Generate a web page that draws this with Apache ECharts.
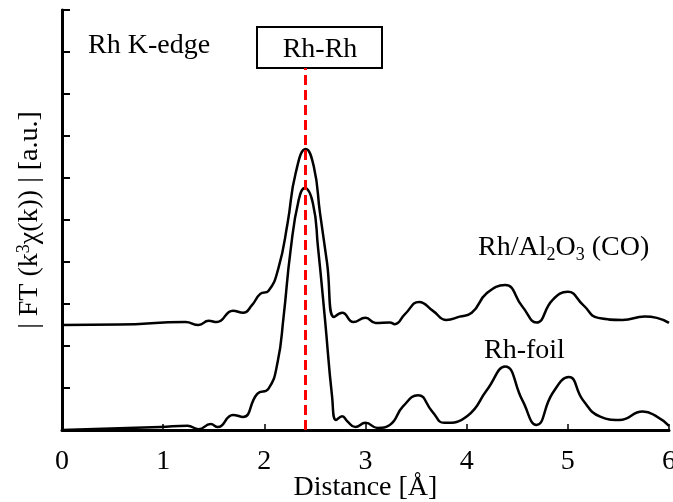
<!DOCTYPE html>
<html>
<head>
<meta charset="utf-8">
<script src="https://cdn.jsdelivr.net/npm/echarts@6/dist/echarts.min.js"></script>
<style>
  html, body { margin: 0; padding: 0; background: #fff; }
  #main { width: 673px; height: 502px; }
</style>
</head>
<body>
<div id="main"></div>
<script>
// Rh/Al2O3(CO) 曲线 (距离 Å, |FT| a.u.)
var coX = [0, 0.57, 1.22, 1.35, 1.45, 1.53, 1.69, 1.79, 1.88, 1.96, 2.04, 2.14, 2.23, 2.31, 2.41, 2.49, 2.55, 2.62, 2.69, 2.77, 2.88, 3.00, 3.10, 3.24, 3.29, 3.39, 3.53, 3.67, 3.80, 3.93, 4.05, 4.20, 4.38, 4.55, 4.69, 4.85, 5.00, 5.15, 5.30, 5.54, 5.76, 5.88, 6.0];
var coY = [2.50, 2.51, 2.57, 2.50, 2.60, 2.57, 2.84, 2.79, 2.98, 3.24, 3.31, 3.86, 4.93, 6.12, 6.69, 6.26, 5.17, 3.98, 2.69, 2.79, 2.57, 2.67, 2.55, 2.56, 2.52, 2.76, 3.05, 2.83, 2.62, 2.70, 2.79, 3.26, 3.45, 2.94, 2.56, 3.10, 3.29, 2.98, 2.67, 2.62, 2.70, 2.67, 2.55];

// Rh-foil 曲线
var foilX = [0, 0.97, 1.24, 1.35, 1.47, 1.54, 1.69, 1.79, 1.93, 2.04, 2.13, 2.19, 2.26, 2.34, 2.40, 2.48, 2.53, 2.60, 2.67, 2.71, 2.77, 2.82, 2.90, 3.00, 3.12, 3.24, 3.37, 3.52, 3.66, 3.78, 4.01, 4.20, 4.38, 4.55, 4.69, 4.85, 5.01, 5.15, 5.32, 5.51, 5.74, 5.88, 6.0];
var foilY = [0, 0.07, 0.10, 0.02, 0.14, 0.07, 0.36, 0.31, 0.86, 0.98, 1.60, 2.69, 4.29, 5.48, 5.76, 5.40, 4.36, 2.62, 0.79, 0.24, 0.33, 0.21, 0.07, 0.17, 0.05, 0.12, 0.56, 0.83, 0.44, 0.17, 0.34, 0.95, 1.51, 0.71, 0.12, 0.88, 1.26, 0.71, 0.32, 0.24, 0.44, 0.32, 0.10];

// Rh-Rh 峰位
var rhRhPos = 2.4;
var rhRhTop = 8.62;

var serif = 'Liberation Serif';

function pairs(xs, ys) {
	var out = [];
	for (var i = 0; i < xs.length; i++) {
		out.push([xs[i], ys[i]]);
	}
	return out;
}

var chart = echarts.init(document.getElementById('main'));

chart.setOption({
	animation: false,
	grid: { left: 62, right: 4, top: 10, bottom: 72, outerBoundsMode: 'none', containLabel: false },
	xAxis: [{
		type: 'value',
		min: 0, max: 6, interval: 1,
		name: 'Distance [Å]',
		nameLocation: 'middle',
		nameGap: 44,
		nameMoveOverlap: false,
		nameTextStyle: { fontFamily: serif, fontSize: 28, color: '#000' },
		axisLine: { show: true, onZero: false, lineStyle: { color: '#000', width: 3 } },
		axisTick: { show: true, inside: true, length: 6, lineStyle: { color: '#000', width: 1.5 } },
		axisLabel: { fontFamily: serif, fontSize: 28, color: '#000', margin: 18 },
		splitLine: { show: false }
	}, {
		type: 'value',
		position: 'top',
		min: 0, max: 6,
		axisLine: { show: true, lineStyle: { color: '#000', width: 2 } },
		axisTick: { show: false },
		axisLabel: { show: false },
		splitLine: { show: false }
	}],
	yAxis: [{
		type: 'value',
		min: 0, max: 10, interval: 1,
		name: '| FT (k{sup|3}χ(k)) | [a.u.]',
		nameLocation: 'middle',
		nameGap: 17,
		nameMoveOverlap: false,
		nameTextStyle: {
			fontFamily: serif, fontSize: 28, color: '#000',
			rich: { sup: { fontFamily: serif, fontSize: 18, color: '#000', verticalAlign: 'top', padding: [0, 0, 12, 0] } }
		},
		axisLine: { show: true, onZero: false, lineStyle: { color: '#000', width: 3 } },
		axisTick: { show: true, inside: true, length: 8, lineStyle: { color: '#000', width: 2 } },
		axisLabel: { show: false },
		splitLine: { show: false }
	}, {
		type: 'value',
		position: 'right',
		min: 0, max: 10,
		axisLine: { show: true, lineStyle: { color: '#000', width: 2 } },
		axisTick: { show: false },
		axisLabel: { show: false },
		splitLine: { show: false }
	}],
	series: [{
		name: 'Rh/Al2O3(CO)',
		type: 'line',
		data: pairs(coX, coY),
		smooth: 0.5,
		symbol: 'none',
		lineStyle: { color: '#000', width: 2.5 },
		z: 3
	}, {
		name: 'Rh-foil',
		type: 'line',
		data: pairs(foilX, foilY),
		smooth: 0.5,
		symbol: 'none',
		lineStyle: { color: '#000', width: 2.5 },
		z: 3,
		markLine: {
			silent: true,
			symbol: 'none',
			label: { show: false },
			lineStyle: { color: '#ff0000', width: 3, type: [10, 5] },
			data: [[{ coord: [rhRhPos, 0] }, { coord: [rhRhPos, rhRhTop] }]]
		}
	}],
	graphic: [{
		type: 'text',
		x: 88, y: 46,
		style: { text: 'Rh K-edge', font: '28px "Liberation Serif"', fill: '#000', verticalAlign: 'middle' }
	}, {
		type: 'rect',
		shape: { x: 257, y: 27, width: 125, height: 41 },
		style: { fill: '#fff', stroke: '#000', lineWidth: 2 }
	}, {
		type: 'text',
		x: 320, y: 50,
		style: { text: 'Rh-Rh', font: '28px "Liberation Serif"', fill: '#000', align: 'center', verticalAlign: 'middle' }
	}, {
		type: 'text',
		x: 478, y: 248,
		style: {
			text: 'Rh/Al{sub|2}O{sub|3} (CO)',
			font: '28px "Liberation Serif"', fill: '#000', verticalAlign: 'middle',
			rich: { sub: { font: '18px "Liberation Serif"', fill: '#000', padding: [14, 0, 0, 0] } }
		}
	}, {
		type: 'text',
		x: 484, y: 351,
		style: { text: 'Rh-foil', font: '28px "Liberation Serif"', fill: '#000', verticalAlign: 'middle' }
	}]
});
</script>
</body>
</html>
